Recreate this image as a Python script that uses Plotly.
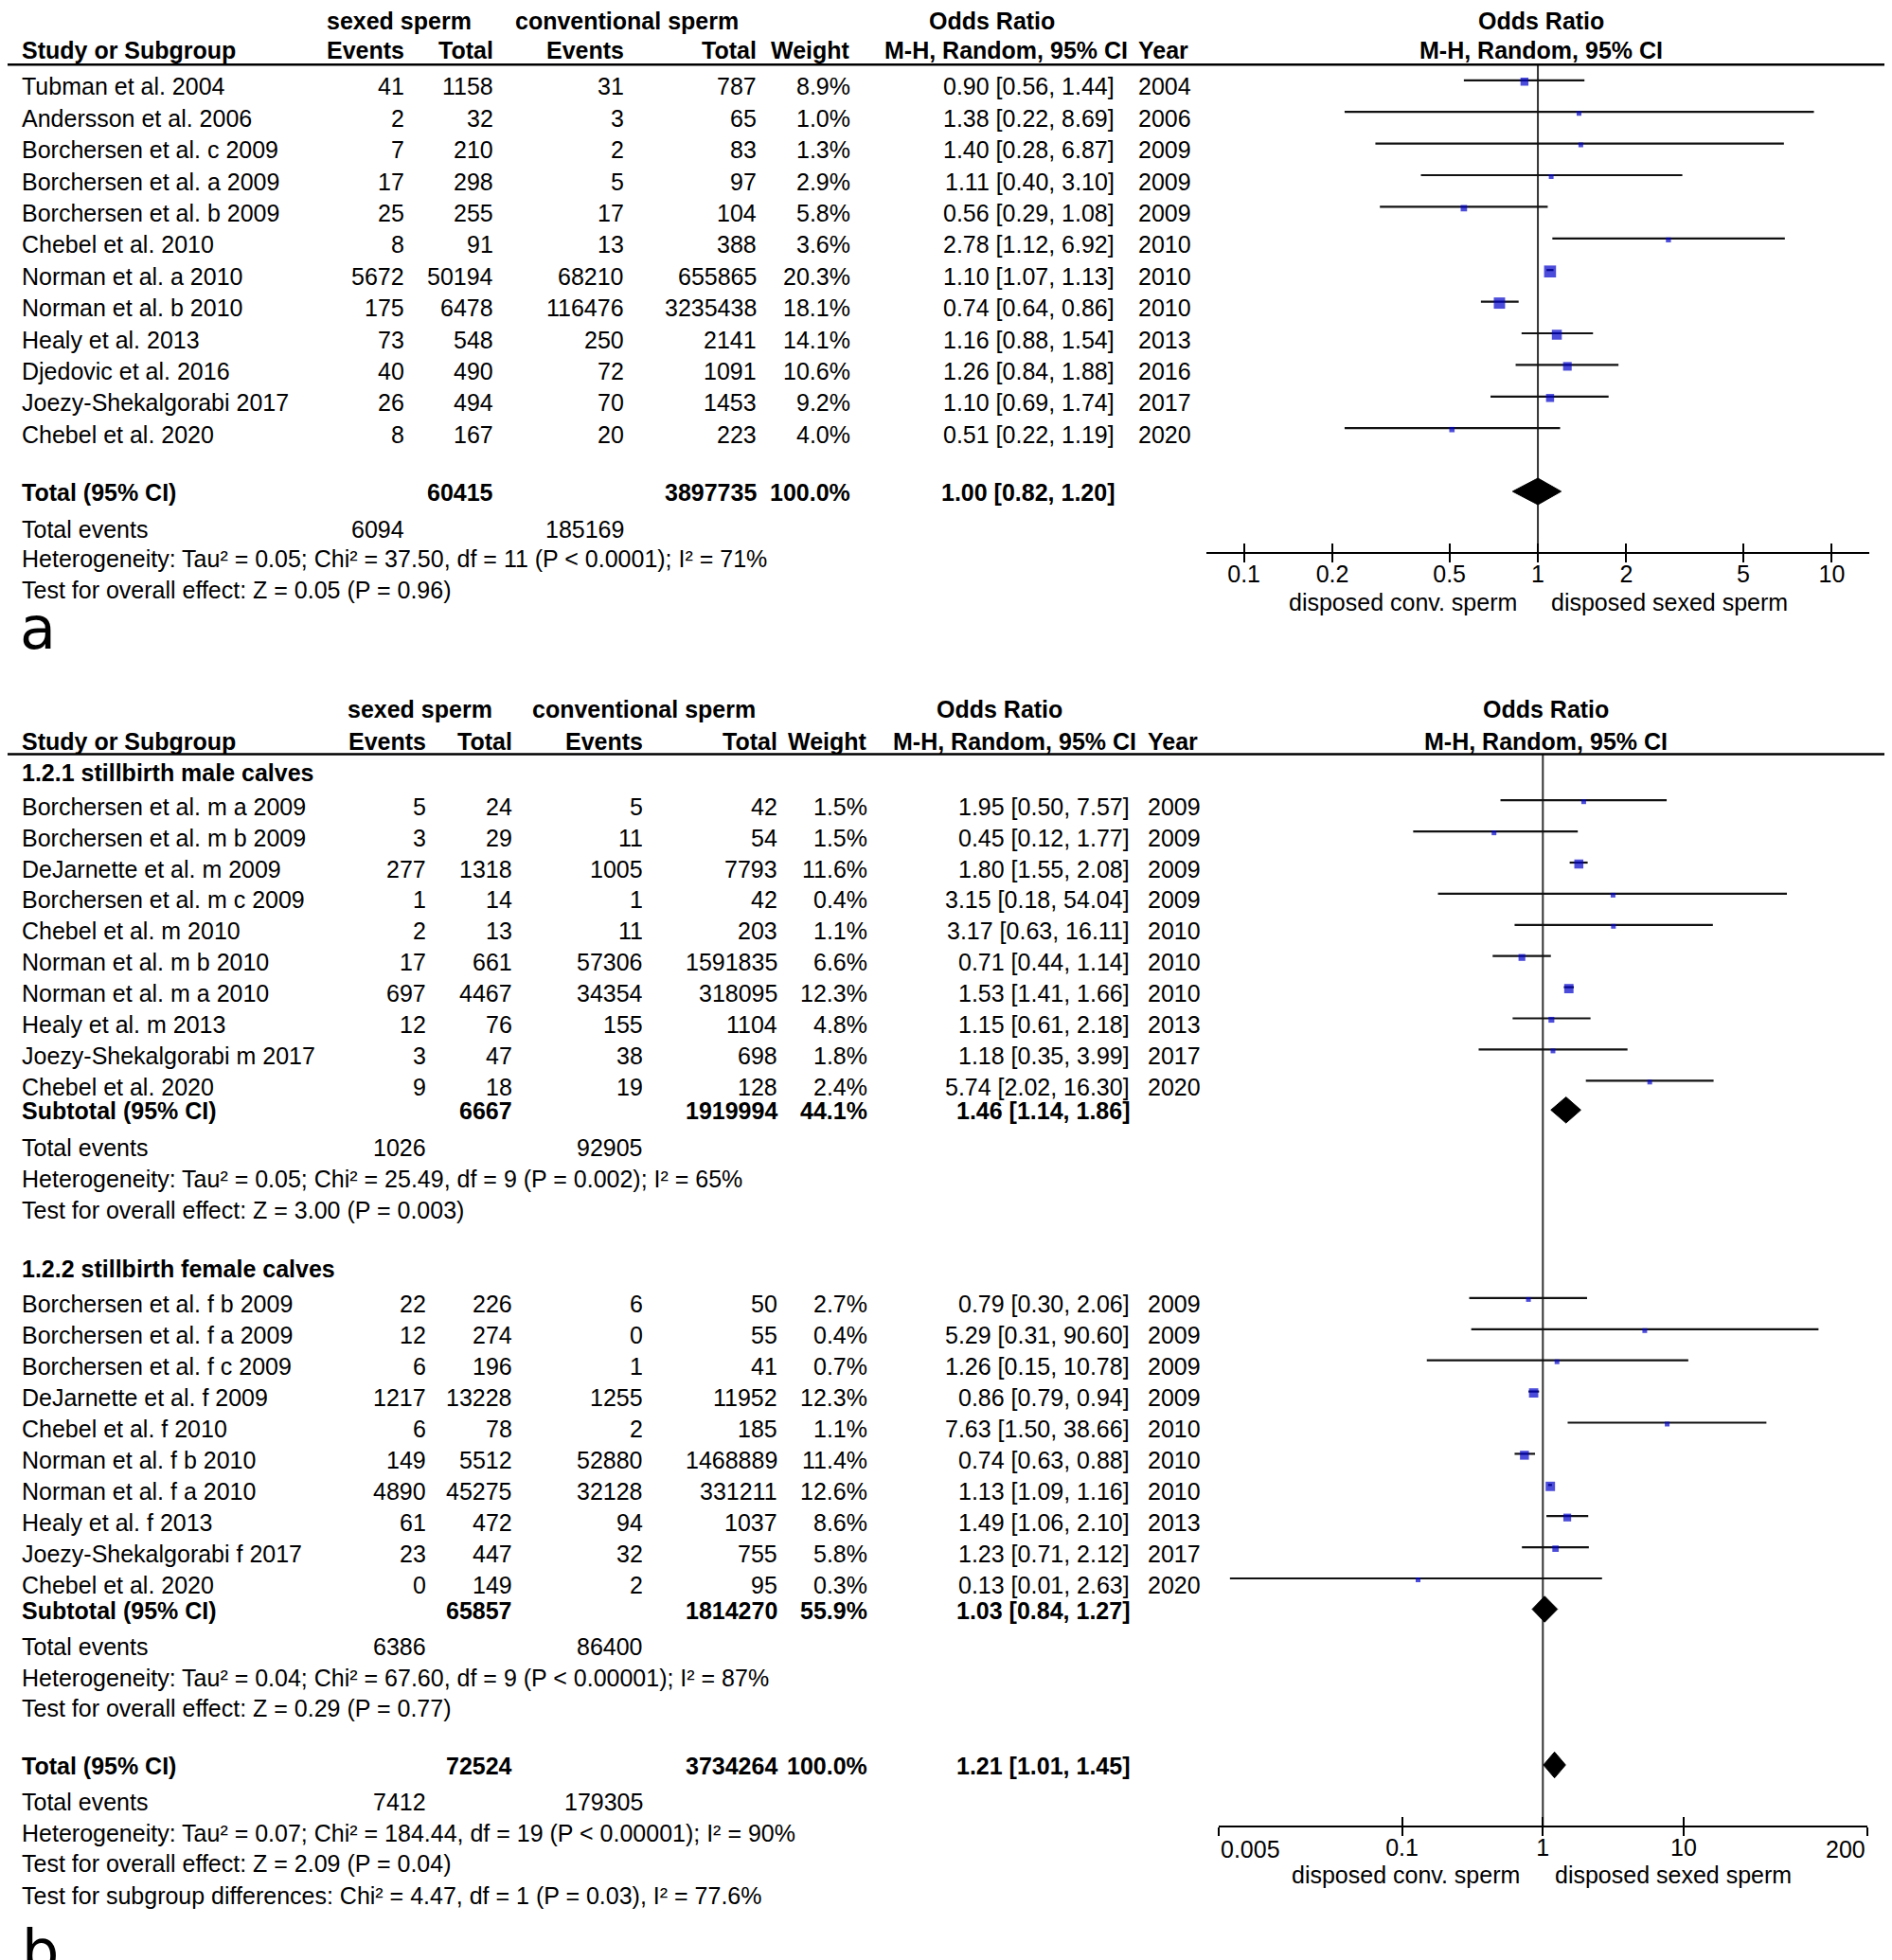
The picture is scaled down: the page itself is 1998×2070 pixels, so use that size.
import math
import plotly.graph_objects as go

W, H = 1998, 2070          # page (reference) size in px
OFF = 8                    # default page margin around the plot div
FW, FH = W - OFF, H - OFF  # figure size
FONT = "Liberation Sans, Arial, Helvetica, sans-serif"
FS = 25

# ---------------- data: panel a ----------------
studies_a = ["Tubman et al. 2004", "Andersson et al. 2006", "Borchersen et al. c 2009",
             "Borchersen et al. a 2009", "Borchersen et al. b 2009", "Chebel et al. 2010",
             "Norman et al. a 2010", "Norman et al. b 2010", "Healy et al. 2013",
             "Djedovic et al. 2016", "Joezy-Shekalgorabi 2017", "Chebel et al. 2020"]
sexed_events_a = [41, 2, 7, 17, 25, 8, 5672, 175, 73, 40, 26, 8]
sexed_total_a = [1158, 32, 210, 298, 255, 91, 50194, 6478, 548, 490, 494, 167]
conv_events_a = [31, 3, 2, 5, 17, 13, 68210, 116476, 250, 72, 70, 20]
conv_total_a = [787, 65, 83, 97, 104, 388, 655865, 3235438, 2141, 1091, 1453, 223]
weight_a = [8.9, 1.0, 1.3, 2.9, 5.8, 3.6, 20.3, 18.1, 14.1, 10.6, 9.2, 4.0]
or_a = [0.90, 1.38, 1.40, 1.11, 0.56, 2.78, 1.10, 0.74, 1.16, 1.26, 1.10, 0.51]
lo_a = [0.56, 0.22, 0.28, 0.40, 0.29, 1.12, 1.07, 0.64, 0.88, 0.84, 0.69, 0.22]
hi_a = [1.44, 8.69, 6.87, 3.10, 1.08, 6.92, 1.13, 0.86, 1.54, 1.88, 1.74, 1.19]
year_a = [2004, 2006, 2009, 2009, 2009, 2010, 2010, 2010, 2013, 2016, 2017, 2020]
total_a = {"sexed_total": 60415, "conv_total": 3897735, "weight": 100.0,
           "or": 1.00, "lo": 0.82, "hi": 1.20, "sexed_events": 6094, "conv_events": 185169}
het_a = "Heterogeneity: Tau² = 0.05; Chi² = 37.50, df = 11 (P &lt; 0.0001); I² = 71%"
test_a = "Test for overall effect: Z = 0.05 (P = 0.96)"
ticks_a = [0.1, 0.2, 0.5, 1, 2, 5, 10]
ticklabels_a = ["0.1", "0.2", "0.5", "1", "2", "5", "10"]

# ---------------- data: panel b ----------------
studies_m = ["Borchersen et al. m a 2009", "Borchersen et al. m b 2009", "DeJarnette et al. m 2009",
             "Borchersen et al. m c 2009", "Chebel et al. m 2010", "Norman et al. m b 2010",
             "Norman et al. m a 2010", "Healy et al. m 2013", "Joezy-Shekalgorabi m 2017",
             "Chebel et al. 2020"]
sexed_events_m = [5, 3, 277, 1, 2, 17, 697, 12, 3, 9]
sexed_total_m = [24, 29, 1318, 14, 13, 661, 4467, 76, 47, 18]
conv_events_m = [5, 11, 1005, 1, 11, 57306, 34354, 155, 38, 19]
conv_total_m = [42, 54, 7793, 42, 203, 1591835, 318095, 1104, 698, 128]
weight_m = [1.5, 1.5, 11.6, 0.4, 1.1, 6.6, 12.3, 4.8, 1.8, 2.4]
or_m = [1.95, 0.45, 1.80, 3.15, 3.17, 0.71, 1.53, 1.15, 1.18, 5.74]
lo_m = [0.50, 0.12, 1.55, 0.18, 0.63, 0.44, 1.41, 0.61, 0.35, 2.02]
hi_m = [7.57, 1.77, 2.08, 54.04, 16.11, 1.14, 1.66, 2.18, 3.99, 16.30]
year_m = [2009, 2009, 2009, 2009, 2010, 2010, 2010, 2013, 2017, 2020]
sub_m = {"sexed_total": 6667, "conv_total": 1919994, "weight": 44.1,
         "or": 1.46, "lo": 1.14, "hi": 1.86, "sexed_events": 1026, "conv_events": 92905}
het_m = "Heterogeneity: Tau² = 0.05; Chi² = 25.49, df = 9 (P = 0.002); I² = 65%"
test_m = "Test for overall effect: Z = 3.00 (P = 0.003)"

studies_f = ["Borchersen et al. f b 2009", "Borchersen et al. f a 2009", "Borchersen et al. f c 2009",
             "DeJarnette et al. f 2009", "Chebel et al. f 2010", "Norman et al. f b 2010",
             "Norman et al. f a 2010", "Healy et al. f 2013", "Joezy-Shekalgorabi f 2017",
             "Chebel et al. 2020"]
sexed_events_f = [22, 12, 6, 1217, 6, 149, 4890, 61, 23, 0]
sexed_total_f = [226, 274, 196, 13228, 78, 5512, 45275, 472, 447, 149]
conv_events_f = [6, 0, 1, 1255, 2, 52880, 32128, 94, 32, 2]
conv_total_f = [50, 55, 41, 11952, 185, 1468889, 331211, 1037, 755, 95]
weight_f = [2.7, 0.4, 0.7, 12.3, 1.1, 11.4, 12.6, 8.6, 5.8, 0.3]
or_f = [0.79, 5.29, 1.26, 0.86, 7.63, 0.74, 1.13, 1.49, 1.23, 0.13]
lo_f = [0.30, 0.31, 0.15, 0.79, 1.50, 0.63, 1.09, 1.06, 0.71, 0.006]
hi_f = [2.06, 90.60, 10.78, 0.94, 38.66, 0.88, 1.16, 2.10, 2.12, 2.63]
year_f = [2009, 2009, 2009, 2009, 2010, 2010, 2010, 2013, 2017, 2020]
sub_f = {"sexed_total": 65857, "conv_total": 1814270, "weight": 55.9,
         "or": 1.03, "lo": 0.84, "hi": 1.27, "sexed_events": 6386, "conv_events": 86400}
het_f = "Heterogeneity: Tau² = 0.04; Chi² = 67.60, df = 9 (P &lt; 0.00001); I² = 87%"
test_f = "Test for overall effect: Z = 0.29 (P = 0.77)"

total_b = {"sexed_total": 72524, "conv_total": 3734264, "weight": 100.0,
           "or": 1.21, "lo": 1.01, "hi": 1.45, "sexed_events": 7412, "conv_events": 179305}
het_b = "Heterogeneity: Tau² = 0.07; Chi² = 184.44, df = 19 (P &lt; 0.00001); I² = 90%"
test_b = "Test for overall effect: Z = 2.09 (P = 0.04)"
subdiff_b = "Test for subgroup differences: Chi² = 4.47, df = 1 (P = 0.03), I² = 77.6%"
ticks_b = [0.005, 0.1, 1, 10, 200]
ticklabels_b = ["0.005", "0.1", "1", "10", "200"]

group_m = "1.2.1 stillbirth male calves"
group_f = "1.2.2 stillbirth female calves"
axis_left = "disposed conv. sperm"
axis_right = "disposed sexed sperm"

# ---------------- layout constants (page pixels) ----------------
LA = dict(h1=21.7, h2=53.3, rule=68.3, row0=91.3, step=33.4, total=520.0,
          tev=558.6, het=590.3, test=623.3, axis=584.3,
          ev_s=428.6, tot_s=523.0, ev_c=661.4, tot_c=800.5, wt=900.0, orc=1179.0,
          or_hdr=1193.0, year=1200.0, or_title=1047.0, grp_s=421.0, grp_c=661.7,
          fp_title=1627.0, fx0=1273.9, fx1=1974.2, rng=(-1.128, 1.128), dh=14.0,
          lab_l=1604.0, lab_r=1636.0, lab_y=636.0)
LB = dict(h1=749.0, h2=783.3, rule=796.5, g1=815.5, row0_m=851.7, step=32.9, sub_m=1173.3,
          tev_m=1212.3, het_m=1245.3, test_m=1278.3, g2=1340.4, row0_f=1377.4,
          sub_f=1700.5, tev_f=1739.2, het_f=1772.2, test_f=1804.0, total=1865.0,
          tev=1903.0, het=1936.0, test=1967.7, subdiff=2002.0, axis=1929.3,
          ev_s=451.5, tot_s=543.4, ev_c=680.5, tot_c=822.7, wt=918.4, orc=1195.0,
          or_hdr=1201.7, year=1210.0, or_title=1055.0, grp_s=443.0, grp_c=680.0,
          fp_title=1632.0, fx0=1287.0, fx1=1971.6, rng=(-2.3015, 2.3015), dh=13.7,
          lab_l=1607.0, lab_r=1640.0, lab_y=1980.0)
LEFT = 21.0

ann = []


def px(x):
    return (x - OFF) / FW


def txt(x, y, s, anchor="left", bold=False, size=FS, family=FONT):
    ann.append(dict(x=px(x), xref="paper", y=y, yref="y",
                    text=f"<b>{s}</b>" if bold else s, showarrow=False,
                    xanchor=anchor, yanchor="middle",
                    font=dict(size=size, family=family, color="black")))


def fmt_or(o, l, h):
    return f"{o:.2f} [{l:.2f}, {h:.2f}]"


def msize(w):
    return max(5.0, 2.8 * math.sqrt(w))


fig = go.Figure()


def header(L):
    txt(L["grp_s"], L["h1"], "sexed sperm", "center", True)
    txt(L["grp_c"], L["h1"], "conventional sperm", "center", True)
    txt(L["or_title"], L["h1"], "Odds Ratio", "center", True)
    txt(L["fp_title"], L["h1"], "Odds Ratio", "center", True)
    txt(LEFT, L["h2"], "Study or Subgroup", "left", True)
    txt(L["ev_s"], L["h2"], "Events", "right", True)
    txt(L["tot_s"], L["h2"], "Total", "right", True)
    txt(L["ev_c"], L["h2"], "Events", "right", True)
    txt(L["tot_c"], L["h2"], "Total", "right", True)
    txt(L["wt"], L["h2"], "Weight", "right", True)
    txt(L["or_hdr"], L["h2"], "M-H, Random, 95% CI", "right", True)
    txt(L["year"], L["h2"], "Year", "left", True)
    txt(L["fp_title"], L["h2"], "M-H, Random, 95% CI", "center", True)


def study_rows(L, ys, names, se, st, ce, ct, wt, o, lo, hi, yr, xa):
    for i, y in enumerate(ys):
        txt(LEFT, y, names[i])
        txt(L["ev_s"], y, str(se[i]), "right")
        txt(L["tot_s"], y, str(st[i]), "right")
        txt(L["ev_c"], y, str(ce[i]), "right")
        txt(L["tot_c"], y, str(ct[i]), "right")
        txt(L["wt"], y, f"{wt[i]:.1f}%", "right")
        txt(L["orc"], y, fmt_or(o[i], lo[i], hi[i]), "right")
        txt(L["year"], y, str(yr[i]), "left")
    lx, ly = [], []
    for i, y in enumerate(ys):
        lx += [lo[i], hi[i], None]
        ly += [y - 6.5, y - 6.5, None]
    fig.add_trace(go.Scatter(x=lx, y=ly, mode="lines", xaxis=xa, yaxis="y",
                             line=dict(color="#111111", width=2.2), hoverinfo="skip",
                             showlegend=False))
    fig.add_trace(go.Scatter(x=o, y=[y - 5 for y in ys], mode="markers", xaxis=xa, yaxis="y",
                             marker=dict(symbol="square", size=[msize(w) for w in wt],
                                         color="#0000cc", line=dict(width=0)),
                             hoverinfo="skip", showlegend=False))


def summary(L, y, d, label, xa):
    txt(LEFT, y, label, "left", True)
    txt(L["tot_s"], y, str(d["sexed_total"]), "right", True)
    txt(L["tot_c"], y, str(d["conv_total"]), "right", True)
    txt(L["wt"], y, f"{d['weight']:.1f}%", "right", True)
    txt(L["orc"], y, fmt_or(d["or"], d["lo"], d["hi"]), "right", True)
    c = y - 1.0
    h = L["dh"]
    fig.add_trace(go.Scatter(x=[d["lo"], d["or"], d["hi"], d["or"], d["lo"]],
                             y=[c, c - h, c, c + h, c], mode="lines", fill="toself",
                             fillcolor="black", line=dict(color="black", width=1),
                             xaxis=xa, yaxis="y", hoverinfo="skip", showlegend=False))


def events(L, y, d):
    txt(LEFT, y, "Total events")
    txt(L["ev_s"], y, str(d["sexed_events"]), "right")
    txt(L["ev_c"], y, str(d["conv_events"]), "right")


def refline(L, y0, y1, xa):
    fig.add_trace(go.Scatter(x=[1, 1], y=[y0, y1], mode="lines", xaxis=xa, yaxis="y",
                             line=dict(color="#333333", width=2), hoverinfo="skip",
                             showlegend=False))


# ---------------- panel a ----------------
header(LA)
refline(LA, LA["rule"], LA["axis"], "x")
ys_a = [LA["row0"] + i * LA["step"] for i in range(len(studies_a))]
study_rows(LA, ys_a, studies_a, sexed_events_a, sexed_total_a, conv_events_a, conv_total_a,
           weight_a, or_a, lo_a, hi_a, year_a, "x")
summary(LA, LA["total"], total_a, "Total (95% CI)", "x")
events(LA, LA["tev"], total_a)
txt(LEFT, LA["het"], het_a)
txt(LEFT, LA["test"], test_a)
txt(LA["lab_l"], LA["lab_y"], axis_left, "right")
txt(LA["lab_r"], LA["lab_y"], axis_right, "left")
txt(19, 663, "a", "left", size=62, family="DejaVu Sans, sans-serif")

# ---------------- panel b ----------------
header(LB)
refline(LB, LB["rule"], LB["axis"], "x2")
txt(LEFT, LB["g1"], group_m, "left", True)
ys_m = [LB["row0_m"] + i * LB["step"] for i in range(len(studies_m))]
study_rows(LB, ys_m, studies_m, sexed_events_m, sexed_total_m, conv_events_m, conv_total_m,
           weight_m, or_m, lo_m, hi_m, year_m, "x2")
summary(LB, LB["sub_m"], sub_m, "Subtotal (95% CI)", "x2")
events(LB, LB["tev_m"], sub_m)
txt(LEFT, LB["het_m"], het_m)
txt(LEFT, LB["test_m"], test_m)

txt(LEFT, LB["g2"], group_f, "left", True)
ys_f = [LB["row0_f"] + i * LB["step"] for i in range(len(studies_f))]
study_rows(LB, ys_f, studies_f, sexed_events_f, sexed_total_f, conv_events_f, conv_total_f,
           weight_f, or_f, lo_f, hi_f, year_f, "x2")
summary(LB, LB["sub_f"], sub_f, "Subtotal (95% CI)", "x2")
events(LB, LB["tev_f"], sub_f)
txt(LEFT, LB["het_f"], het_f)
txt(LEFT, LB["test_f"], test_f)

summary(LB, LB["total"], total_b, "Total (95% CI)", "x2")
events(LB, LB["tev"], total_b)
txt(LEFT, LB["het"], het_b)
txt(LEFT, LB["test"], test_b)
txt(LEFT, LB["subdiff"], subdiff_b)
txt(LB["lab_l"], LB["lab_y"], axis_left, "right")
txt(LB["lab_r"], LB["lab_y"], axis_right, "left")
txt(21, 2060, "b", "left", size=62, family="DejaVu Sans, sans-serif")

# end tick labels for panel b (aligned inward like the original)
ann.append(dict(x=math.log10(ticks_b[0]), xref="x2", y=LB["axis"] + 24, yref="y",
                text=ticklabels_b[0], showarrow=False, xanchor="left", yanchor="middle",
                font=dict(size=FS, family=FONT, color="black")))
ann.append(dict(x=math.log10(ticks_b[-1]), xref="x2", y=LB["axis"] + 24, yref="y",
                text=ticklabels_b[-1], showarrow=False, xanchor="right", yanchor="middle",
                font=dict(size=FS, family=FONT, color="black")))

# dummy traces for overlay tick axes
fig.add_trace(go.Scatter(x=[1], y=[-50], xaxis="x3", yaxis="y", mode="markers",
                         marker=dict(opacity=0), hoverinfo="skip", showlegend=False))
fig.add_trace(go.Scatter(x=[1], y=[-50], xaxis="x4", yaxis="y", mode="markers",
                         marker=dict(opacity=0), hoverinfo="skip", showlegend=False))


def xax(L, ticks, labels, overlay=None):
    d = dict(type="log", range=list(L["rng"]),
             domain=[px(L["fx0"]), px(L["fx1"])], anchor="free",
             position=1 - (L["axis"] - OFF) / FH, showgrid=False, zeroline=False,
             fixedrange=True, tickvals=ticks, tickcolor="black", tickwidth=2, ticklen=9)
    if overlay is None:
        # labelled axis: upward half of each tick
        d.update(showline=True, linecolor="black", linewidth=2, ticks="inside",
                 ticktext=labels, tickfont=dict(size=FS, family=FONT, color="black"))
    else:
        # downward half of each tick
        d.update(overlaying=overlay, showline=False, ticks="outside", showticklabels=False)
    return d


fig.update_layout(
    width=FW, height=FH, margin=dict(l=0, r=0, t=0, b=0, pad=0),
    paper_bgcolor="white", plot_bgcolor="rgba(0,0,0,0)", hovermode=False,
    xaxis=xax(LA, ticks_a, ticklabels_a),
    xaxis2=xax(LB, ticks_b, ["", "0.1", "1", "10", ""]),
    xaxis3=xax(LA, ticks_a, ticklabels_a, overlay="x"),
    xaxis4=xax(LB, ticks_b, ticklabels_b, overlay="x2"),
    yaxis=dict(range=[H, OFF], domain=[0, 1], visible=False, fixedrange=True),
    annotations=ann,
    shapes=[dict(type="line", xref="paper", yref="y", x0=0, x1=1, y0=LA["rule"], y1=LA["rule"],
                 line=dict(color="black", width=2.5)),
            dict(type="line", xref="paper", yref="y", x0=0, x1=1, y0=LB["rule"], y1=LB["rule"],
                 line=dict(color="black", width=2.5))],
)

fig.write_html("out.html")
